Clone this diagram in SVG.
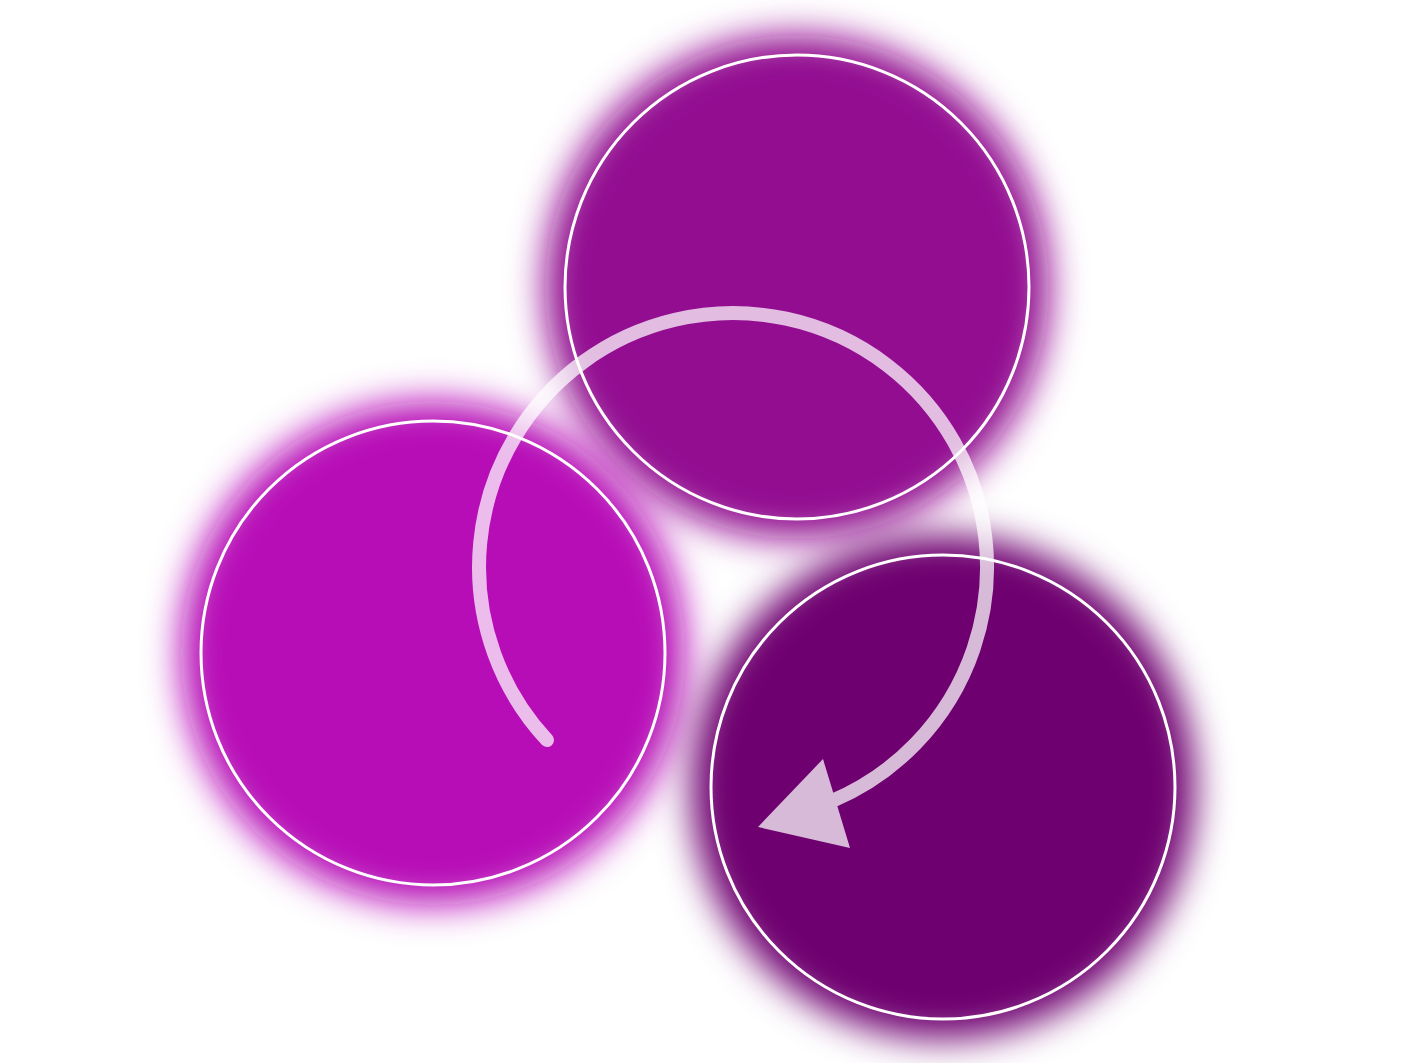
<svg xmlns="http://www.w3.org/2000/svg" width="1417" height="1063" viewBox="0 0 1417 1063">
  <defs>
    <filter id="glow" x="-30%" y="-30%" width="160%" height="160%">
      <feGaussianBlur stdDeviation="18"/>
    </filter>
    <style>
      .ring { fill: none; stroke: #ffffff; stroke-width: 3; }
      .halo { filter: url(#glow); }
    </style>
  </defs>
  <rect width="1417" height="1063" fill="#ffffff"/>
  <g id="node-top">
    <circle class="halo" cx="797" cy="287" r="252" fill="#930891"/>
    <circle class="ring" cx="797" cy="287" r="232"/>
  </g>
  <g id="node-left">
    <circle class="halo" cx="433" cy="653" r="252" fill="#b70ab7"/>
    <circle class="ring" cx="433" cy="653" r="232"/>
  </g>
  <g id="node-bottom">
    <circle class="halo" cx="943" cy="787" r="252" fill="#6e0570"/>
    <circle class="ring" cx="943" cy="787" r="232"/>
  </g>
  <g id="connectors" opacity="0.73">
    <path d="M 547 740 A 254 254 0 1 1 832 801" fill="none" stroke="#ffffff" stroke-width="14" stroke-linecap="round"/>
    <polygon points="758,827 823,759 850,848" fill="#ffffff"/>
  </g>
</svg>
